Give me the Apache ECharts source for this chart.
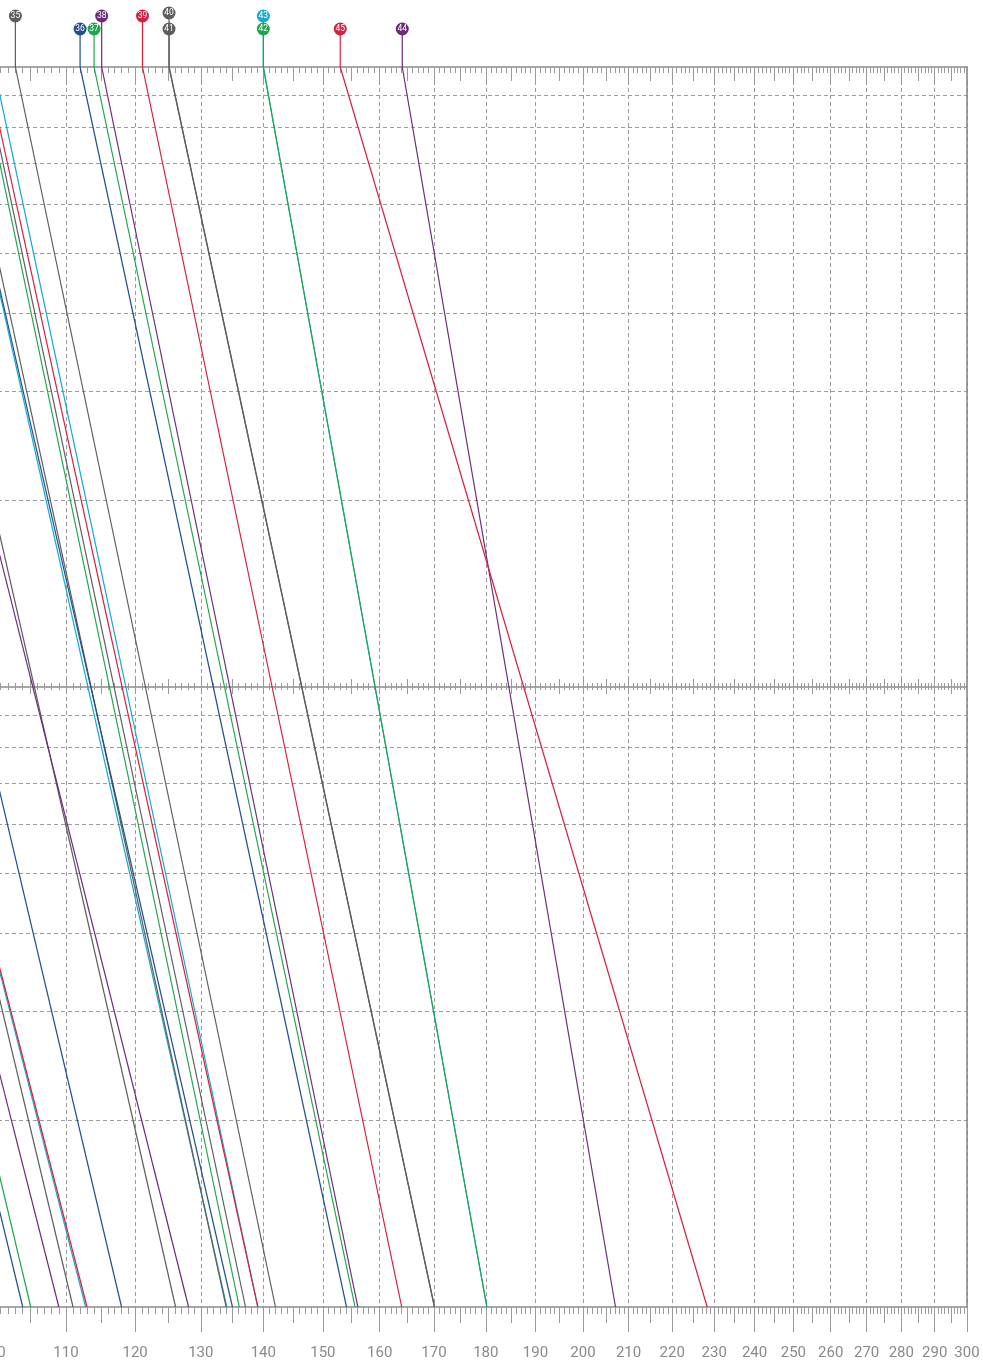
<!DOCTYPE html>
<html>
<head>
<meta charset="utf-8">
<script src="https://cdn.jsdelivr.net/npm/echarts@6/dist/echarts.min.js"></script>
<style>
html,body{margin:0;padding:0;background:#fff;}
#chart{width:983px;height:1361px;}
</style>
</head>
<body>
<div id="chart"></div>
<script>
// ---------------- DATA ----------------
// Temperature axis (°C), plotted on reciprocal absolute temperature (Arrhenius)
const T_AXIS_MIN = 87.95;
const T_AXIS_MAX = 300;
const H_MIN = 1000;      // hours at bottom edge
const H_MAX = 100000;    // hours at top edge
const tickLabelTemps = [100,110,120,130,140,150,160,170,180,190,200,210,220,230,240,250,260,270,280,290,300];
const hourGridValues = [2000,3000,4000,5000,6000,7000,8000,9000,20000,30000,40000,50000,60000,70000,80000,90000];

// Thermal endurance lines: temperature (°C) reached at H_MAX and at H_MIN hours
const lineNames   = ['19','20','21','22','23','24','25','26','27','28','29','30','31','32','33','34',
                     '35','36','37','38','39','41','40','43','42','44','45'];
const lineColors  = ['blue','green','purple','gray','teal','red','blue','gray','purple','teal','gray','blue','green','gray','teal','red',
                     'gray','blue','green','purple','red','gray','gray','teal','green','purple','red'];
const tempAtHmax  = [67.1, 68.5, 69.4, 73.2, 72.1, 72.1, 79.2, 87.1, 85.1, 94.2, 95.1, 94.2, 98.2, 98.6, 100.1, 99.1,
                     103.0, 112.0, 114.0, 115.1, 121.1, 125.1, 125.1, 140.0, 140.0, 164.1, 153.0];
const tempAtHmin  = [104.0, 105.1, 109.0, 111.0, 112.8, 113.0, 118.0, 126.1, 128.1, 134.1, 134.0, 135.0, 136.1, 137.1, 139.1, 139.1,
                     142.0, 154.1, 155.6, 156.1, 164.0, 170.1, 170.1, 180.2, 180.2, 207.1, 228.3];
// label stacking level at the top (-1 = no label shown)
const labelLevel  = [-1,-1,-1,-1,-1,-1,-1,-1,-1,-1,-1,-1,-1,-1,-1,-1,
                     1, 0, 0, 1, 1, 0, 2, 1, 0, 0, 0];

// ---------------- STYLE ----------------
const PALETTE = {gray:'#5e5e5e', blue:'#1f4f8f', green:'#1fa54b', purple:'#6b2c78', red:'#d3213f', teal:'#17a9cf'};
const LABEL_STEM = [38, 51, 54];
const AXIS_COLOR = '#8a8a8a';
const TICK_COLOR = '#9a9a9a';

// ---------------- HELPERS ----------------
const toU = T => 1000 / (T + 273.15);
const fromU = u => 1000 / u - 273.15;
function range(a, b, s) { const r = []; for (let v = a; v <= b + 1e-9; v += s) r.push(v); return r; }
const minorU = range(88, 300, 1).map(toU);
const fiveU = range(90, 300, 5).map(toU);
const tenU = range(90, 300, 10).map(toU);
const labelU = tickLabelTemps.map(toU);

function xAxisBase(extra) {
  return Object.assign({
    type: 'value', gridIndex: 0, inverse: true,
    min: toU(T_AXIS_MAX), max: toU(T_AXIS_MIN),
    axisLine: {show: false, onZero: false},
    axisTick: {show: false},
    axisLabel: {show: false},
    splitLine: {show: false}
  }, extra);
}

const xAxes = [
  // 0: vertical dashed grid every 10 °C (series axis)
  xAxisBase({position: 'bottom', axisTick: {show: false, customValues: tenU},
    splitLine: {show: true, lineStyle: {color: '#9b9b9b', width: 1, type: [4, 3]}}}),
  // 1: bottom axis line + 1° ticks
  xAxisBase({position: 'bottom', axisLine: {show: true, onZero: false, lineStyle: {color: AXIS_COLOR, width: 1.6}},
    axisTick: {show: true, customValues: minorU, length: 7, lineStyle: {color: TICK_COLOR, width: 1}}}),
  // 2: bottom 5° ticks
  xAxisBase({position: 'bottom', axisTick: {show: true, customValues: fiveU, length: 16, lineStyle: {color: TICK_COLOR, width: 1}}}),
  // 3: bottom 10° ticks + labels
  xAxisBase({position: 'bottom', axisTick: {show: true, customValues: labelU, length: 25, lineStyle: {color: TICK_COLOR, width: 1}},
    axisLabel: {show: true, customValues: labelU, formatter: v => String(Math.round(fromU(v))),
      margin: 39, fontSize: 15, color: '#8a8a8a', hideOverlap: false, fontFamily: 'Roboto, "Liberation Sans", sans-serif'}}),
  // 4: top axis line + 1° ticks
  xAxisBase({position: 'top', axisLine: {show: true, onZero: false, lineStyle: {color: AXIS_COLOR, width: 1.6}},
    axisTick: {show: true, inside: true, customValues: minorU, length: 6, lineStyle: {color: TICK_COLOR, width: 1}}}),
  // 5: top 5° ticks
  xAxisBase({position: 'top', axisTick: {show: true, inside: true, customValues: fiveU, length: 14, lineStyle: {color: TICK_COLOR, width: 1}}}),
  // 6: middle axis line (10 000 h)
  xAxisBase({position: 'bottom', offset: -620, axisLine: {show: true, onZero: false, lineStyle: {color: AXIS_COLOR, width: 1.6}}}),
  // 7: middle 1° ticks (crossing)
  xAxisBase({position: 'bottom', offset: -617, axisTick: {show: true, inside: true, customValues: minorU, length: 7, lineStyle: {color: TICK_COLOR, width: 1}}}),
  // 8: middle 5° ticks (crossing)
  xAxisBase({position: 'bottom', offset: -613, axisTick: {show: true, inside: true, customValues: fiveU, length: 15, lineStyle: {color: TICK_COLOR, width: 1}}})
];

const yAxes = [
  {type: 'log', logBase: 10, min: H_MIN, max: H_MAX, gridIndex: 0, position: 'left',
   axisLine: {show: false}, axisLabel: {show: false},
   axisTick: {show: false, customValues: hourGridValues},
   splitLine: {show: true, lineStyle: {color: '#9b9b9b', width: 1, type: [4, 3]}}},
  {type: 'log', logBase: 10, min: H_MIN, max: H_MAX, gridIndex: 0, position: 'right',
   axisLine: {show: true, onZero: false, lineStyle: {color: AXIS_COLOR, width: 1.6}},
   axisLabel: {show: false}, axisTick: {show: false}, splitLine: {show: false}}
];

const series = lineNames.map((name, i) => {
  const color = PALETTE[lineColors[i]];
  const s = {
    type: 'line', name: name, xAxisIndex: 0, yAxisIndex: 0,
    data: [[toU(tempAtHmax[i]), H_MAX], [toU(tempAtHmin[i]), H_MIN]],
    showSymbol: false, symbol: 'none', silent: true, z: 3,
    lineStyle: {color: color, width: 1.2}
  };
  const lvl = labelLevel[i];
  if (lvl >= 0) {
    const L = LABEL_STEM[lvl];
    const coord = [toU(tempAtHmax[i]), H_MAX];
    s.markPoint = {
      silent: true, animation: false,
      data: [
        {coord: coord, symbol: 'rect', symbolSize: [1.2, L], symbolOffset: [0, -L / 2],
         itemStyle: {color: color}, label: {show: false}},
        {coord: coord, symbol: 'circle', symbolSize: 13, symbolOffset: [0, -L],
         itemStyle: {color: color},
         label: {show: true, position: 'inside', formatter: name, color: '#fff', fontSize: 8.5,
                 fontFamily: 'Roboto, "Liberation Sans", sans-serif'}}
      ]
    };
  }
  return s;
});

const chart = echarts.init(document.getElementById('chart'), null, {renderer: 'canvas'});
chart.setOption({
  animation: false,
  backgroundColor: '#ffffff',
  grid: {left: -100, right: 16, top: 67, bottom: 54, containLabel: false, outerBoundsMode: 'none'},
  xAxis: xAxes,
  yAxis: yAxes,
  series: series
});
</script>
</body>
</html>
